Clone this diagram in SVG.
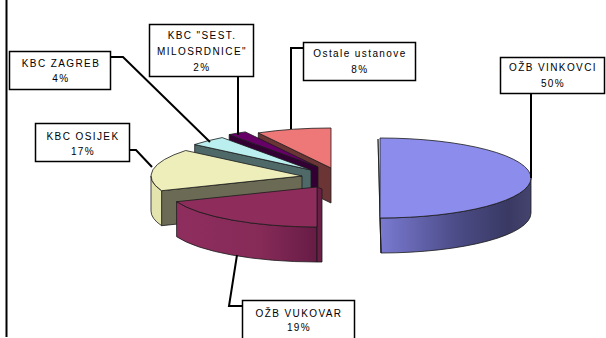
<svg xmlns="http://www.w3.org/2000/svg" width="606" height="338" viewBox="0 0 606 338">
<style>
.lbl rect{fill:#fff;stroke:#000;stroke-width:1.5}
.lbl text{font-family:"Liberation Sans",Arial,sans-serif;font-size:10px;letter-spacing:1.4px;text-anchor:middle;fill:#000}
.edge{stroke:#1a1a1a;stroke-width:0.8;stroke-linejoin:round}
.lead{fill:none;stroke:#000;stroke-width:2}
</style>
<defs>
<linearGradient id="gBlue" x1="0" y1="0" x2="1" y2="0">
<stop offset="0" stop-color="#7a7ad2"/><stop offset="0.5" stop-color="#4c4c88"/><stop offset="0.85" stop-color="#393963"/><stop offset="1" stop-color="#44446e"/>
</linearGradient>
<linearGradient id="gVuk" x1="0" y1="0" x2="1" y2="0">
<stop offset="0" stop-color="#8e2e5e"/><stop offset="0.6" stop-color="#862a58"/><stop offset="1" stop-color="#661c45"/>
</linearGradient>
</defs>
<rect width="606" height="338" fill="#fff"/>
<line x1="6.5" y1="0" x2="6.5" y2="337" stroke="#000" stroke-width="2"/>

<g id="slice-ostale">
<polygon class="edge" points="331,168 258.3,132.9 258.3,167.9 331,203" fill="#6b3535"/>
<path class="edge" d="M331,168 L258.3,132.9 A151,40 0 0,1 331,128 Z" fill="#ee7777"/>
</g>
<g id="slice-sest">
<polygon class="edge" points="318,167 229.2,134.6 229.2,169.6 318,202" fill="#330033"/>
<path class="edge" d="M318,167 L229.2,134.6 A151,40 0 0,1 245.3,131.9 Z" fill="#660066"/>
</g>
<g id="slice-zagreb">
<polygon class="edge" points="311,170 194.7,144.5 194.7,179.5 311,205" fill="#4f6969"/>
<path class="edge" d="M311,170 L194.7,144.5 A151,40 0 0,1 222.2,137.6 Z" fill="#bbeeee"/>
</g>
<g id="slice-osijek">
<polygon class="edge" points="302,176 161.6,190.7 161.6,225.7 302,211" fill="#6b6b55"/>
<path class="edge" d="M161.6,190.7 A151,40 0 0,1 151,176 L151,211 A151,40 0 0,0 161.6,225.7 Z" fill="#e4e4ae"/>
<path class="edge" d="M302,176 L161.6,190.7 A151,40 0 0,1 185.7,150.5 Z" fill="#eeeebb"/>
</g>
<g id="slice-vukovar">
<path class="edge" d="M317,227 A151,40 0 0,1 176.6,201.7 L176.6,236.7 A151,40 0 0,0 317,262 Z" fill="url(#gVuk)"/>
<polygon class="edge" points="317,187 322,189 322,262 317,262" fill="#6a1f47"/>
<path class="edge" d="M317,187 L317,227 A151,40 0 0,1 176.6,201.7 Z" fill="#8e2d5c"/>
</g>
<g id="slice-vinkovci">
<path class="edge" d="M531,178 A151,40 0 0,1 380,218 L381,253 A151,40 0 0,0 531,213 Z" fill="url(#gBlue)"/>
<polygon class="edge" points="378,139 380,218 381,253 379,176" fill="#5a5aa0"/>
<path class="edge" d="M380,178 L380,138 A151,40 0 0,1 380,218 Z" fill="#8c8cec"/>
</g>

<g id="connectors">
<polyline class="lead" points="303,48 291,48 291,129"/>
<polyline class="lead" points="238,77 238,135"/>
<polyline class="lead" points="111,57 123,57 210,142"/>
<polyline class="lead" points="129,150 136,150 152,167"/>
<polyline class="lead" points="237,255 229,306 243,306"/>
<polyline class="lead" points="531,94 531,178"/>
</g>

<g id="label-zagreb" class="lbl">
<rect x="9.5" y="51.5" width="101" height="38"/>
<text x="61" y="66.5">KBC ZAGREB</text>
<text x="61" y="81.5">4%</text>
</g>
<g id="label-sest" class="lbl">
<rect x="149.5" y="24.5" width="104" height="52"/>
<text x="202" y="38.5">KBC "SEST.</text>
<text x="202" y="55">MILOSRDNICE"</text>
<text x="202" y="70.5">2%</text>
</g>
<g id="label-osijek" class="lbl">
<rect x="35.5" y="123.5" width="94" height="38"/>
<text x="83" y="139.5">KBC OSIJEK</text>
<text x="83" y="154.5">17%</text>
</g>
<g id="label-ostale" class="lbl">
<rect x="303.5" y="42.5" width="112" height="38"/>
<text x="360" y="57">Ostale ustanove</text>
<text x="360" y="72.5">8%</text>
</g>
<g id="label-vinkovci" class="lbl">
<rect x="500.5" y="57.5" width="104" height="36"/>
<text x="553" y="71">OŽB VINKOVCI</text>
<text x="553" y="86.5">50%</text>
</g>
<g id="label-vukovar" class="lbl">
<rect x="242.5" y="300.5" width="112" height="50"/>
<text x="299" y="317">OŽB VUKOVAR</text>
<text x="299" y="331">19%</text>
</g>
</svg>
